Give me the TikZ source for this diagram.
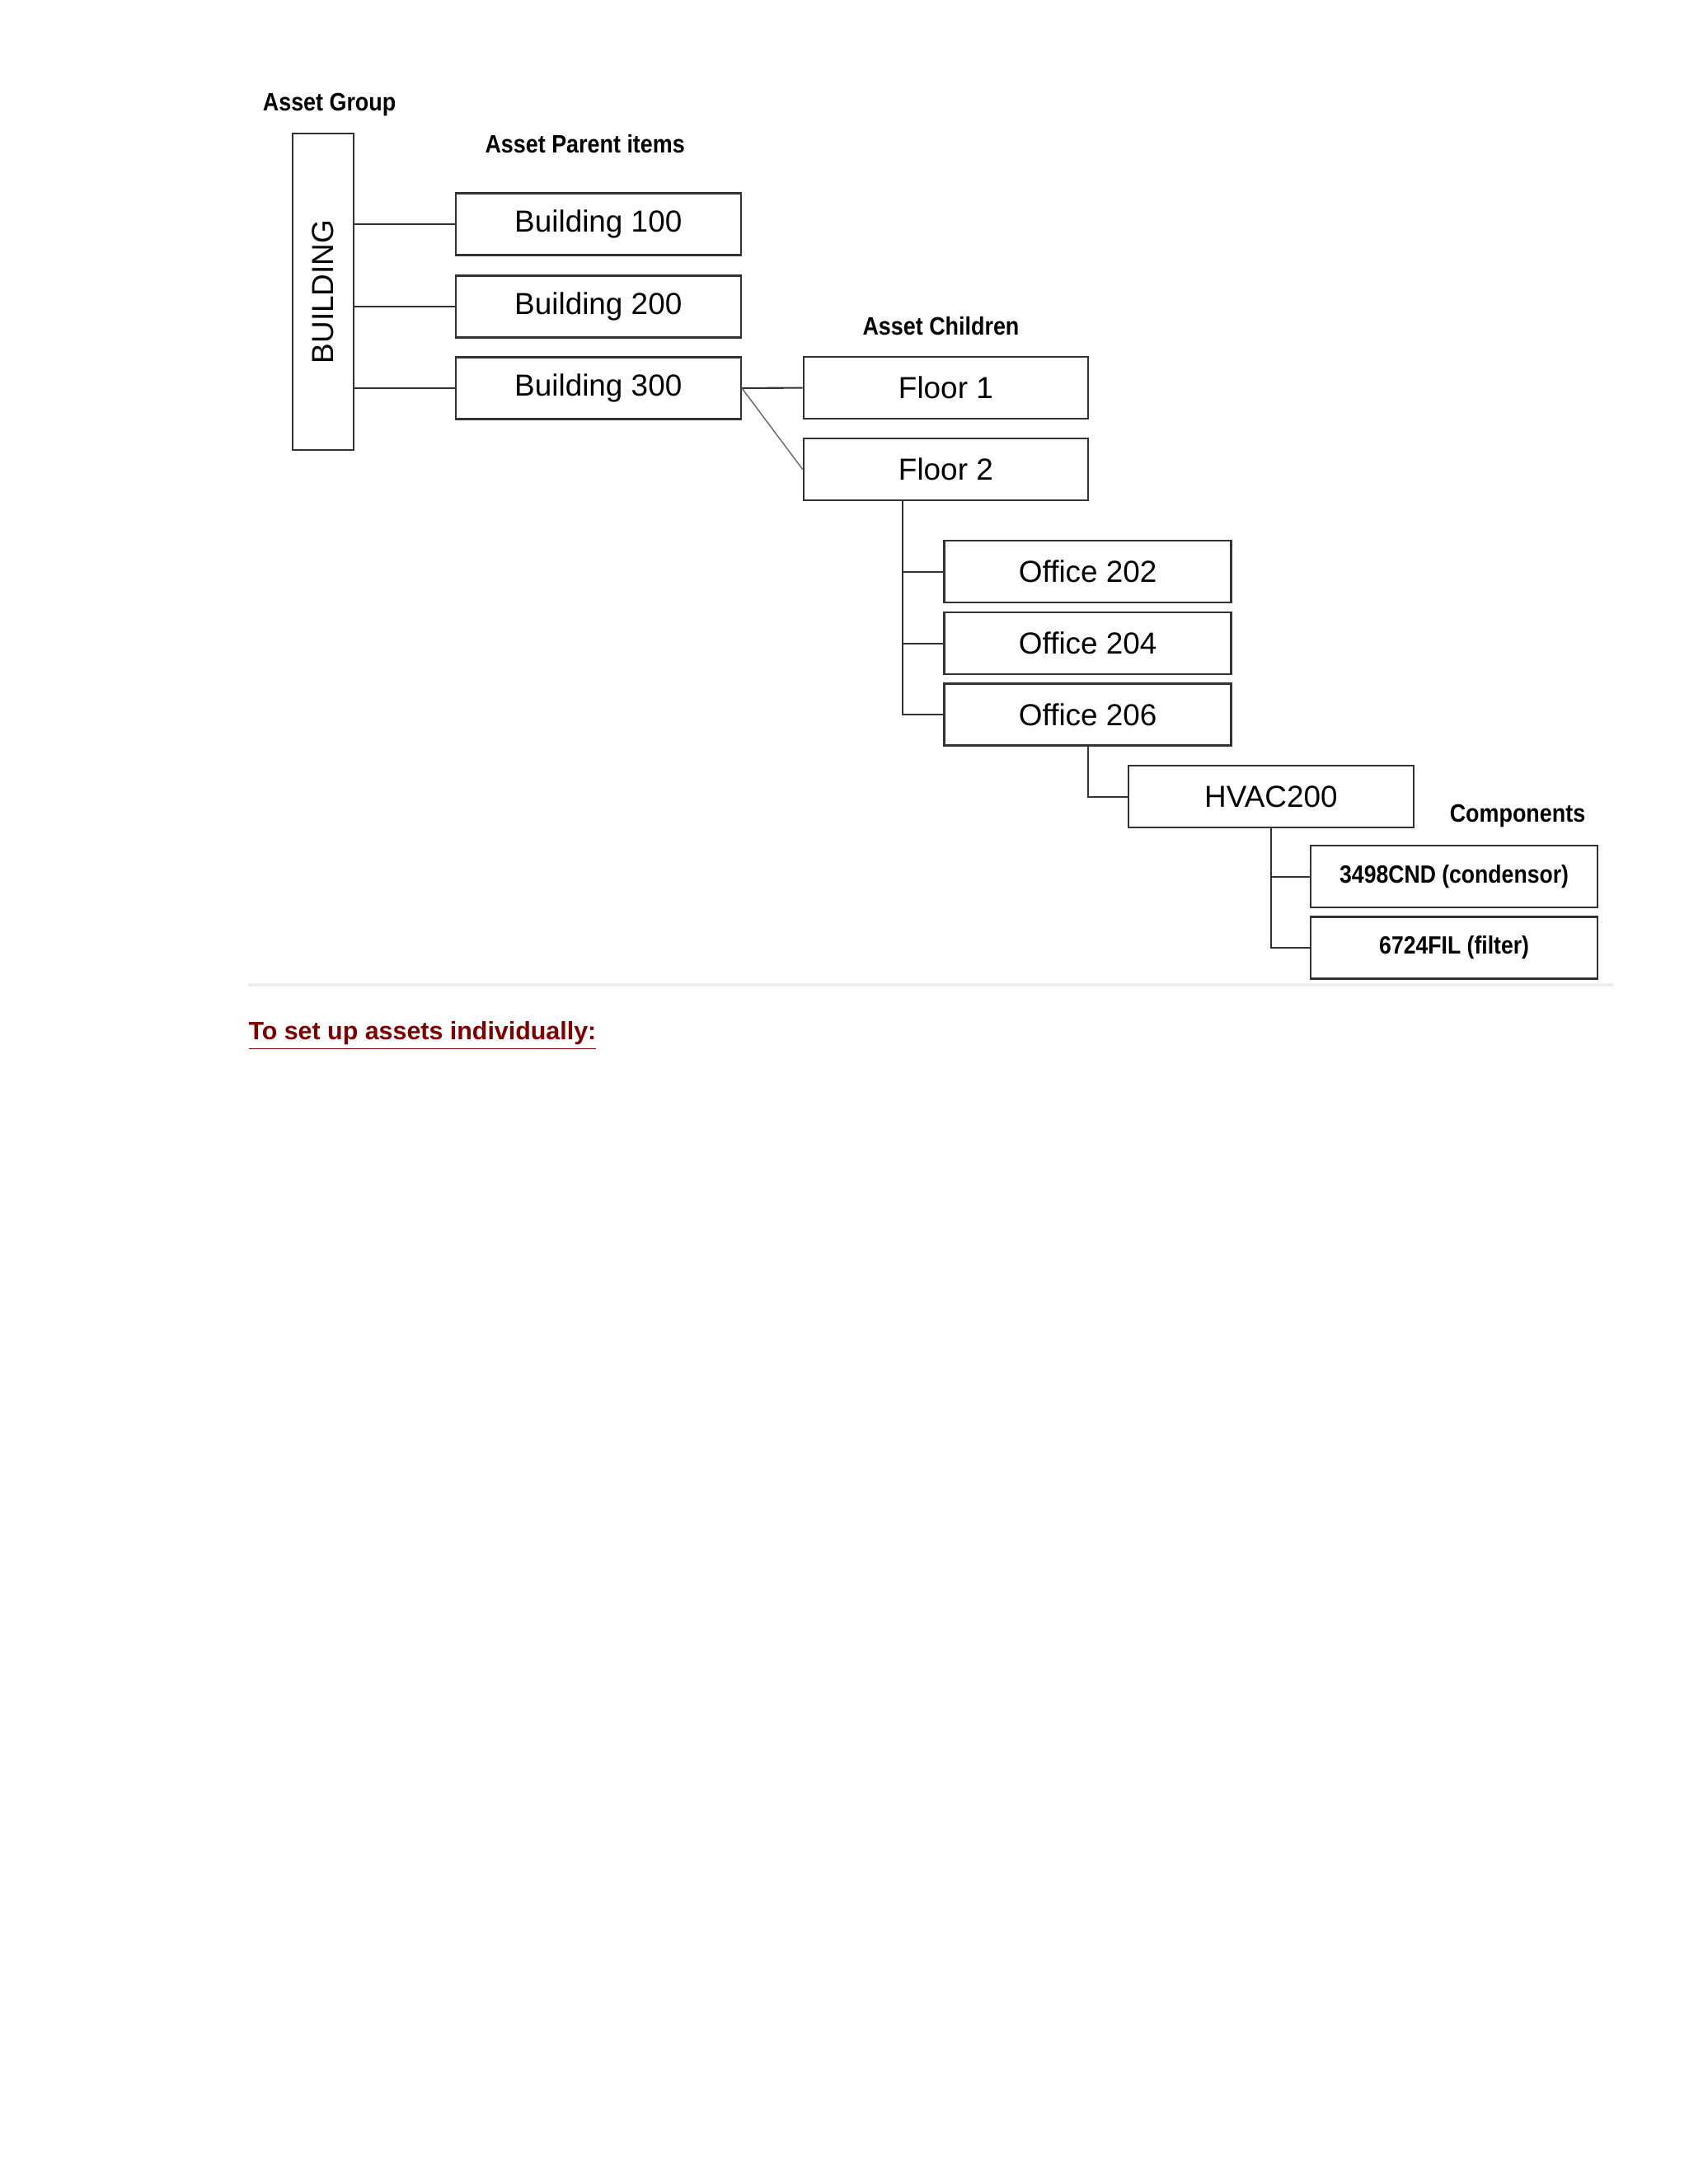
\documentclass[tikz,border=0pt]{standalone}
\usepackage{fontspec}
\usepackage{graphicx}
\setmainfont{Liberation Sans}
\newfontfamily\narrowfont[FakeStretch=0.88]{Liberation Sans}
\definecolor{linkred}{HTML}{800000}

\begin{document}
\begin{tikzpicture}[
    box/.style={draw=black!80, line width=0.7pt, minimum width=3.46cm,
        minimum height=0.75cm, inner sep=0pt, font=\fontsize{10.5}{12}\selectfont},
    smallbox/.style={box, font=\narrowfont\bfseries\fontsize{8.6}{10}\selectfont},
    heading/.style={font=\narrowfont\bfseries\fontsize{8.7}{10}\selectfont, inner sep=0pt},
    link/.style={draw=black!80, line width=0.6pt}
]
    \useasboundingbox (0,0) rectangle (20.48,26.5);
    % column headings
    \node[heading] (hgroup) at (3.996,25.23) {Asset Group};
    \node[heading] (hparent) at (7.097,24.75) {Asset Parent items};
    \node[heading] (hchild) at (11.415,22.54) {Asset Children};
    \node[heading] (hcomp) at (18.41,16.60) {Components};
    % asset group
    \node[box, minimum width=0.74cm, minimum height=3.84cm] (grp) at (3.92,22.96)
        {\rotatebox{90}{BUILDING}};
    \foreach \n/\y in {100/23.78, 200/22.78, 300/21.79}
    {
        \node[box] (b\n) at (7.258,\y) {Building \n};
        \draw[link] (grp.east |- b\n.west) -- (b\n.west);
    }
    % children of building 300
    \node[box, minimum width=3.45cm] (fl1) at (11.474,21.794) {Floor 1};
    \node[box, minimum width=3.45cm] (fl2) at (11.474,20.805) {Floor 2};
    \draw[link] (b300.east) -- (fl1.west);
    \draw[link, line width=0.4pt, black!60] (b300.east) -- (fl2.west);
    \foreach \n/\y in {202/19.563, 204/18.693, 206/17.831}
    {
        \node[box, minimum width=3.48cm] (of\n) at (13.197,\y) {Office \n};
        \draw[link] ([xshift=1.217cm]fl2.south west) |- (of\n.west);
    }
    \node[box] (hvac) at (15.419,16.834) {HVAC200};
    \draw[link] (of206.south) |- (hvac.west);
    % components
    \node[smallbox, minimum width=3.48cm] (cnd) at (17.641,15.863) {3498CND (condensor)};
    \node[smallbox, minimum width=3.48cm] (fil) at (17.641,15.001) {6724FIL (filter)};
    \foreach \c in {cnd,fil}
        \draw[link] (hvac.south) |- (\c.west);
    % page rule and link text
    \draw[black!7, line width=1.2pt] (3.008,14.553) -- (19.568,14.553);
    \node[anchor=west, inner sep=0pt, text=linkred,
        font=\bfseries\fontsize{8.65}{10}\selectfont] (setup) at (3.008,13.93)
        {\underline{To set up assets individually:}};
\end{tikzpicture}
\end{document}
